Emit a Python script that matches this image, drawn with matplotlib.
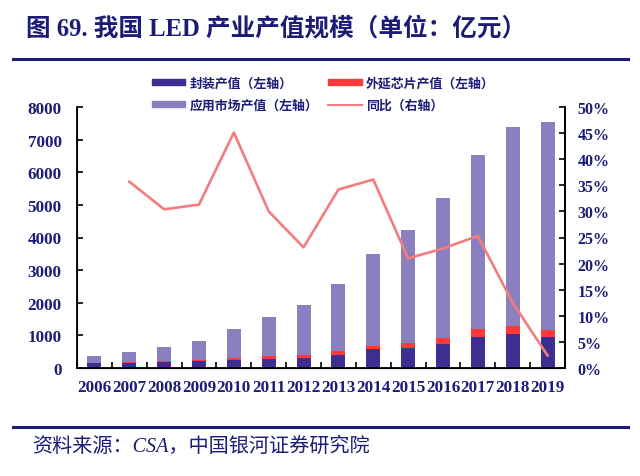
import matplotlib.pyplot as plt
from matplotlib.patches import Patch
from matplotlib.lines import Line2D
import numpy as np

plt.rcParams['font.family'] = ['Liberation Serif', 'Noto Sans CJK SC']

years = ['2006', '2007', '2008', '2009', '2010', '2011', '2012',
         '2013', '2014', '2015', '2016', '2017', '2018', '2019']
package = [146, 168, 185, 204, 250, 285, 320, 403, 568, 615, 748, 948, 1050, 940]
epi_chip = [20, 22, 28, 30, 45, 70, 90, 105, 120, 140, 182, 250, 232, 230]
application = [190, 293, 417, 593, 905, 1205, 1510, 2068, 2819, 3490, 4286, 5340, 6092, 6378]
yoy = [np.nan, 35.7, 30.4, 31.3, 45.1, 30.0, 23.1, 34.2, 36.1, 21.0, 22.9, 25.3, 12.5, 2.4]

navy = '#1c1c78'
c_pkg = '#3d2f91'
c_epi = '#ff3838'
c_app = '#8a80c0'
c_line = '#f57c7c'

fig = plt.figure(figsize=(6.4, 4.77), dpi=100)
ax = fig.add_axes([0.1203, 0.2264, 0.7625, 0.5472])
x = np.arange(len(years))
w = 0.4

pkg = np.array(package)
epi = np.array(epi_chip)
app = np.array(application)
ax.bar(x, pkg, w, color=c_pkg, zorder=2)
ax.bar(x, epi, w, bottom=pkg, color=c_epi, zorder=2)
ax.bar(x, app, w, bottom=pkg + epi, color=c_app, zorder=2)

ax.set_xlim(-0.5, len(years) - 0.5)
ax.set_ylim(0, 8000)
ax.set_yticks(range(0, 8001, 1000))
ax.set_xticks(x)
ax.set_xticklabels(years)
ax.set_xticks(np.arange(-0.5, len(years), 1), minor=True)
ax.tick_params(axis='x', which='major', length=0, pad=8)
ax.tick_params(axis='x', which='minor', length=4, direction='in', width=1.2)
ax.tick_params(axis='y', direction='in', length=4, width=1.2, pad=11)
for lab in ax.get_xticklabels() + ax.get_yticklabels():
    lab.set_fontsize(12.3)
    lab.set_fontweight('bold')
    lab.set_color(navy)
ax.spines['top'].set_visible(False)
for s in ['left', 'bottom', 'right']:
    ax.spines[s].set_linewidth(1.3)

ax2 = ax.twinx()
ax2.plot(x, yoy, color=c_line, lw=1.9, zorder=3)
ax2.set_ylim(0, 50)
ax2.set_yticks(range(0, 51, 5))
ax2.set_yticklabels([f'{v}%' for v in range(0, 51, 5)])
ax2.tick_params(axis='y', direction='in', length=4, width=1.2, pad=9)
for lab in ax2.get_yticklabels():
    lab.set_fontsize(11.5)
    lab.set_fontweight('bold')
    lab.set_color(navy)
ax2.spines['top'].set_visible(False)
ax2.spines['right'].set_linewidth(1.3)

handles = [Patch(color=c_pkg), Patch(color=c_app), Patch(color=c_epi),
           Line2D([], [], color=c_line, lw=1.5)]
labels = ['封装产值（左轴）', '应用市场产值（左轴）', '外延芯片产值（左轴）', '同比（右轴）']
leg = fig.legend(handles, labels, ncol=2, loc='center', bbox_to_anchor=(0.505, 0.8),
                 frameon=False, prop={'size': 9.3, 'weight': 'bold'},
                 handlelength=2.6, handleheight=0.4, handletextpad=0.3,
                 columnspacing=0.8, labelspacing=0.75)
for t in leg.get_texts():
    t.set_color(navy)

# title and source
fig.text(0.04, 0.94, '图 69. 我国 LED 产业产值规模（单位：亿元）', fontsize=17.7,
         fontweight='bold', color=navy, va='center')
fig.add_artist(Line2D([0.02, 0.982], [0.874, 0.874], color=navy, lw=2.2))
fig.add_artist(Line2D([0.02, 0.982], [0.103, 0.103], color=navy, lw=2.2))
fig.text(0.05, 0.062, '资料来源：CSA，中国银河证券研究院', fontsize=14.5,
         fontstyle='italic', color=navy, va='center')

fig.savefig('out.png', dpi=100)
